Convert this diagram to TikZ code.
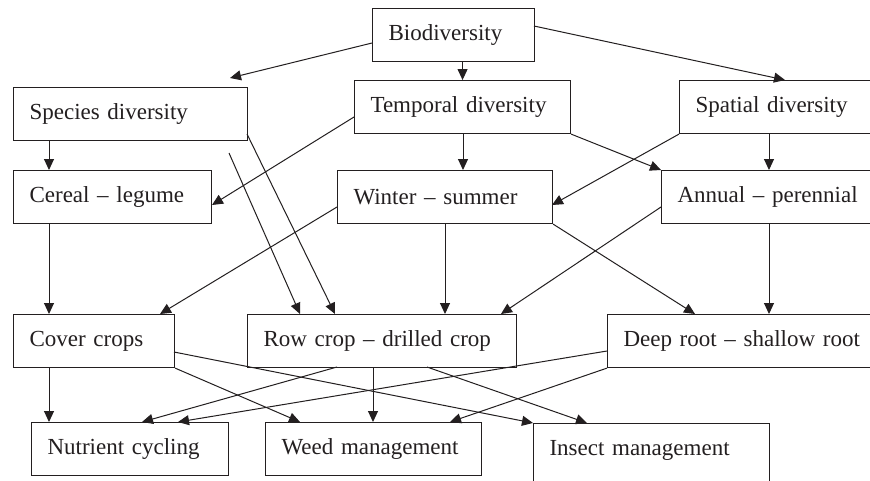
\documentclass[tikz,border=0pt]{standalone}
\usepackage{fontspec}
\setmainfont{Liberation Serif}
\usetikzlibrary{arrows.meta}
\definecolor{ink}{HTML}{231F20}
\begin{document}
\begin{tikzpicture}[x=1pt,y=-1pt,
  box/.style={draw=ink, line width=1.1pt, minimum height=53pt, inner xsep=16pt, inner ysep=0pt,
    align=left, anchor=north west, text=ink, font=\fontsize{23}{28}\selectfont},
  arr/.style={draw=ink, line width=1pt, -{Triangle[length=11pt,width=10pt]}},
  ln/.style={draw=ink, line width=1pt}]
\useasboundingbox (0,0) rectangle (870,480);
\clip (0,0) rectangle (870,480);
\fill[white] (0,0) rectangle (870,480);
% boxes
\node[box, text width=130pt] (bio) at (372,8) {Biodiversity};
\node[box, text width=202pt] (sp) at (13,87) {Species diversity};
\node[box, text width=184pt] (tem) at (354,80) {Temporal diversity};
\node[box, text width=188pt] (spa) at (679,80) {Spatial diversity};
\node[box, text width=166pt] (cer) at (13,170) {Cereal -- legume};
\node[box, text width=183pt] (win) at (337,170) {Winter -- summer};
\node[box, text width=198pt] (ann) at (661,170) {Annual -- perennial};
\node[box, text width=129pt] (cov) at (13,314) {Cover crops};
\node[box, text width=237pt] (row) at (247,314) {Row crop -- drilled crop};
\node[box, text width=248pt] (deep) at (607,314) {Deep root -- shallow root};
\node[box, text width=165pt] (nut) at (31,422) {Nutrient cycling};
\node[box, text width=184pt] (weed) at (265,422) {Weed management};
\node[box, draw=none, text width=203pt] (ins) at (533,423) {Insect management};
\draw[ink, line width=0.8pt] ([shift={(0,70)}]ins.north west) -- (ins.north west) -- (ins.north east) -- ([shift={(0,70)}]ins.north east);
\coordinate (free) at (229,153);
% connectors
\draw[arr] ([shift={(0,35)}]bio.north west) -- ([shift={(217,-9)}]sp.north west);
\draw[arr] (tem.north |- bio.south) -- (tem.north);
\draw[arr] ([shift={(162,18)}]bio.north west) -- ([shift={(106,0)}]spa.north west);
\draw[arr] ([shift={(36,53)}]sp.north west) -- ([shift={(36,0)}]cer.north west);
\draw[arr] (free) -- ([shift={(53,0)}]row.north west);
\draw[arr] ([shift={(234,47)}]sp.north west) -- ([shift={(88,0)}]row.north west);
\draw[arr] ([shift={(0,37)}]tem.north west) -- ([shift={(199,35)}]cer.north west);
\draw[arr] ([shift={(109,53)}]tem.north west) -- ([shift={(126,0)}]win.north west);
\draw[arr] (tem.south east) -- (ann.north west);
\draw[arr] (spa.south west) -- ([shift={(215,35)}]win.north west);
\draw[arr] ([shift={(90,53)}]spa.north west) -- ([shift={(108,0)}]ann.north west);
\draw[arr] ([shift={(36,53)}]cer.north west) -- ([shift={(36,0)}]cov.north west);
\draw[arr] ([shift={(0,37)}]win.north west) -- ([shift={(147,0)}]cov.north west);
\draw[arr] ([shift={(108,53)}]win.north west) -- ([shift={(198,0)}]row.north west);
\draw[arr] (win.south east) -- ([shift={(88,0)}]deep.north west);
\draw[arr] ([shift={(0,37)}]ann.north west) -- ([shift={(254,0)}]row.north west);
\draw[arr] ([shift={(108,53)}]ann.north west) -- ([shift={(162,0)}]deep.north west);
\draw[arr] ([shift={(36,53)}]cov.north west) -- ([shift={(18,0)}]nut.north west);
\draw[arr] (cov.south east) -- ([shift={(35,0)}]weed.north west);
\draw[arr] ([shift={(161,38)}]cov.north west) -- (ins.north west);
\draw[arr] ([shift={(90,53)}]row.north west) -- ([shift={(111,0)}]nut.north west);
\draw[arr] ([shift={(126,53)}]row.north west) -- ([shift={(108,0)}]weed.north west);
\draw[arr] ([shift={(180,53)}]row.north west) -- ([shift={(54,0)}]ins.north west);
\draw[arr] ([shift={(0,37)}]deep.north west) -- ([shift={(147,0)}]nut.north west);
\draw[arr] (deep.south west) -- ([shift={(185,0)}]weed.north west);
\end{tikzpicture}
\end{document}
